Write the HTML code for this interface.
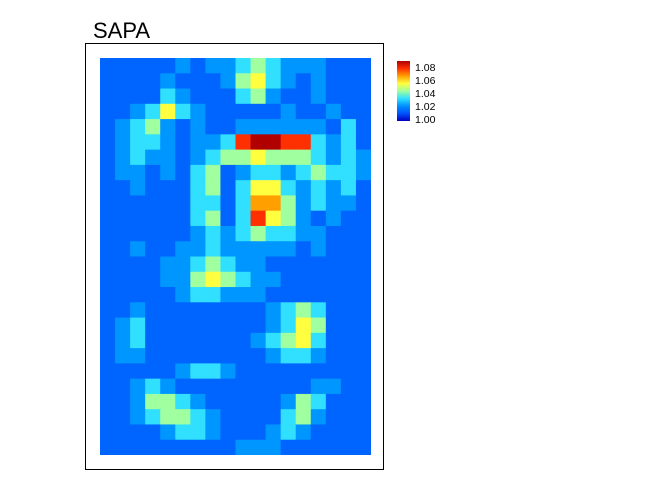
<!DOCTYPE html>
<html><head><meta charset="utf-8"><style>
body{margin:0;background:#fff;width:672px;height:480px;overflow:hidden;font-family:"Liberation Sans",sans-serif}
</style></head><body>
<svg width="672" height="480">
<defs>
<clipPath id="cp"><rect x="100" y="58" width="271" height="397"/></clipPath>
<linearGradient id="lg" x1="0" y1="1" x2="0" y2="0">
<stop offset="0" stop-color="#0000c0"/><stop offset="0.125" stop-color="#0050ff"/><stop offset="0.25" stop-color="#0090ff"/><stop offset="0.375" stop-color="#30e0ff"/><stop offset="0.5" stop-color="#a0ffa0"/><stop offset="0.625" stop-color="#ffff40"/><stop offset="0.75" stop-color="#ffa000"/><stop offset="0.875" stop-color="#ff3000"/><stop offset="1" stop-color="#b00000"/>
</linearGradient>
</defs>
<text x="93" y="38" font-size="22">SAPA</text>
<rect x="85.5" y="43.5" width="298" height="426" fill="none" stroke="#000"/>
<g clip-path="url(#cp)"><g id="cells"></g></g>
<rect x="397" y="61" width="13" height="60" fill="url(#lg)"/>
<g font-size="10.5">
<text x="415" y="71">1.08</text><text x="415" y="84">1.06</text><text x="415" y="97">1.04</text><text x="415" y="110">1.02</text><text x="415" y="123">1.00</text>
</g>
</svg>
<script>
const rows = [
"111112122343222111",
"111121112453212111",
"111132111342112111",
"112353211111211211",
"123421211222222131",
"123321223788773231",
"123221234454443232",
"122121341233234332",
"112111341355323231",
"111111331366423221",
"111111341375421211",
"111111232343322111",
"112112232222212111",
"111122343221111111",
"111122454322111111",
"111112332221111111",
"112111111112343111",
"123111111112354111",
"123111111123453111",
"122111111112332111",
"111112332111111111",
"112321111111112211",
"112443211111243111",
"112344321111342111",
"111123321112321111",
"111111111222111111"
];
const stops = [[0,0,0,192],[1,0,100,255],[2,0,150,255],[3,48,224,255],[4,160,255,160],[5,255,255,64],[6,255,160,0],[7,255,48,0],[8,176,0,0]];
function color(v){const d=(v-1)*100;let i=Math.min(7,Math.max(0,Math.floor(d)));const t=Math.min(1,Math.max(0,d-i));const a=stops[i],b=stops[i+1];
return `rgb(${a[1]+(b[1]-a[1])*t|0},${a[2]+(b[2]-a[2])*t|0},${a[3]+(b[3]-a[3])*t|0})`;}
const g=document.getElementById('cells');
const nc=rows[0].length,nr=rows.length,x0=100,y0=58,cw=271/nc,ch=397/nr;
rows.forEach((r,ri)=>{for(let ci=0;ci<nc;ci++){const v=1+(+r[ci])/100;
const el=document.createElementNS('http://www.w3.org/2000/svg','rect');
el.setAttribute('x',x0+ci*cw);el.setAttribute('y',y0+ri*ch);el.setAttribute('width',cw+0.6);el.setAttribute('height',ch+0.6);el.setAttribute('fill',color(v));


g.appendChild(el);}});
</script>
</body></html>
